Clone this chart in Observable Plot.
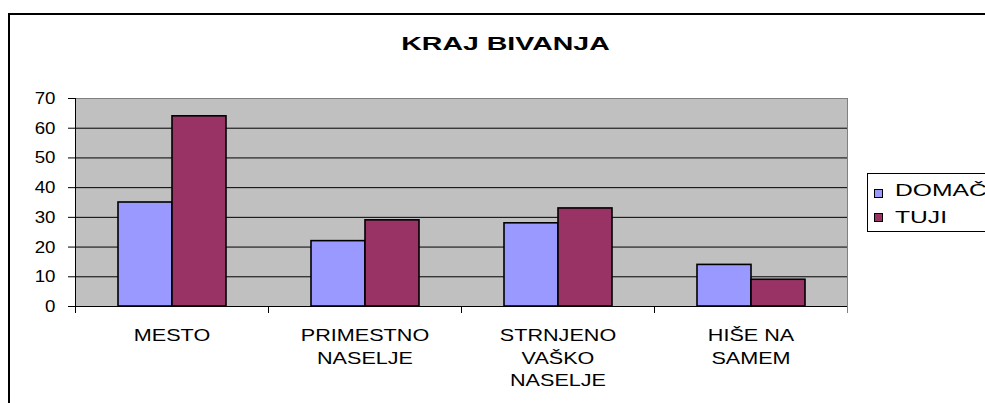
<!DOCTYPE html>
<html>
<head>
<meta charset="utf-8">
<script src="https://cdn.jsdelivr.net/npm/d3@7"></script>
<script src="https://cdn.jsdelivr.net/npm/@observablehq/plot@0.6"></script>
<style>
html, body { margin: 0; padding: 0; background: #fff; overflow: hidden; }
#wrap { position: relative; width: 985px; height: 403px; overflow: hidden; font-family: "Liberation Sans", Arial, sans-serif; color: #000; }
#border { position: absolute; left: 8px; top: 13px; width: 1100px; height: 600px; border: 2px solid #000; }
#title { position: absolute; left: 0; width: 1012px; top: 34px; text-align: center; font-weight: bold; font-size: 19px; line-height: 1; }
#title span { display: inline-block; transform: scaleX(1.5); }
#chart { position: absolute; left: 0; top: 0; }
#legend { position: absolute; left: 867px; top: 173px; width: 160px; height: 57px; border: 1px solid #000; background: #fff; }
.sw { position: absolute; left: 6px; width: 9px; height: 9px; box-sizing: border-box; border: 1px solid #000; }
.lt { position: absolute; left: 27px; font-size: 17px; line-height: 1; white-space: nowrap; transform: scaleX(1.45); transform-origin: left center; }
</style>
</head>
<body>
<div id="wrap">
  <div id="border"></div>
  <div id="title"><span>KRAJ BIVANJA</span></div>
  <div id="chart"></div>
  <div id="legend"></div>
</div>
<script>
const categories = ["MESTO", "PRIMESTNO\nNASELJE", "STRNJENO\nVAŠKO\nNASELJE", "HIŠE NA\nSAMEM"];
const series = ["DOMAČI", "TUJI"];
const domaci = [35, 22, 28, 14];
const tuji = [64, 29, 33, 9];
const yTicks = [0, 10, 20, 30, 40, 50, 60, 70];
const colors = ["#9999FF", "#993366"];

const data = categories.flatMap((c, i) => [
  {cat: c, s: series[0], v: domaci[i]},
  {cat: c, s: series[1], v: tuji[i]}
]);

const W = 985, H = 403, mL = 75, mR = 138, mT = 98, mB = 97;
const plotH = H - mT - mB;

const chart = Plot.plot({
  width: W, height: H,
  marginLeft: mL, marginRight: mR, marginTop: mT, marginBottom: mB,
  style: {fontFamily: "Liberation Sans, Arial, sans-serif", fontSize: "17px", color: "#000", background: "transparent", overflow: "visible"},
  fx: {domain: categories, padding: 0},
  x: {domain: series, paddingInner: 0, paddingOuter: 0.755, axis: null},
  y: {domain: [0, 70]},
  color: {domain: series, range: colors},
  marks: [
    Plot.frame({fill: "#C0C0C0", facet: "super"}),
    Plot.ruleY(yTicks.filter(t => t > 0 && t < 70), {stroke: "#000", strokeWidth: 1}),
    Plot.ruleY([70], {stroke: "#808080"}),
    Plot.barY(data, {fx: "cat", x: "s", y: "v", fill: "s", stroke: "#000", strokeWidth: 1.6, inset: 0}),
    Plot.ruleY([0], {stroke: "#000"}),
    Plot.frame({anchor: "left", stroke: "#000", insetTop: plotH, insetBottom: -6}),
    Plot.frame({anchor: "left", stroke: "#000", facet: "super"}),
    Plot.frame({anchor: "right", stroke: "#808080", insetBottom: -6, facet: "super"}),
    Plot.axisY({ticks: yTicks, tickSize: 7, tickPadding: 13, label: null, fontSize: 17}),
    Plot.axisFx({anchor: "bottom", tickSize: 0, tickPadding: 19, label: null, lineHeight: 1.32, fontSize: 17})
  ]
});
document.getElementById("chart").append(chart);

function stretch(sel, f) {
  chart.querySelectorAll(sel).forEach(t => {
    const spans = t.querySelectorAll("tspan");
    const els = spans.length ? Array.from(spans) : [t];
    els.forEach(e => {
      const L = e.getComputedTextLength();
      e.setAttribute("textLength", L * f);
      e.setAttribute("lengthAdjust", "spacingAndGlyphs");
    });
  });
}
stretch('g[aria-label="y-axis tick label"] text', 1.1);
stretch('g[aria-label="fx-axis tick label"] text', 1.27);

const legend = document.getElementById("legend");
const swTops = [15, 39], txtTops = [8, 35];
series.forEach((s, i) => {
  const sw = document.createElement("div");
  sw.className = "sw"; sw.style.top = swTops[i] + "px"; sw.style.background = colors[i];
  const t = document.createElement("div");
  t.className = "lt"; t.style.top = txtTops[i] + "px"; t.textContent = s;
  legend.append(sw, t);
});
</script>
</body>
</html>
